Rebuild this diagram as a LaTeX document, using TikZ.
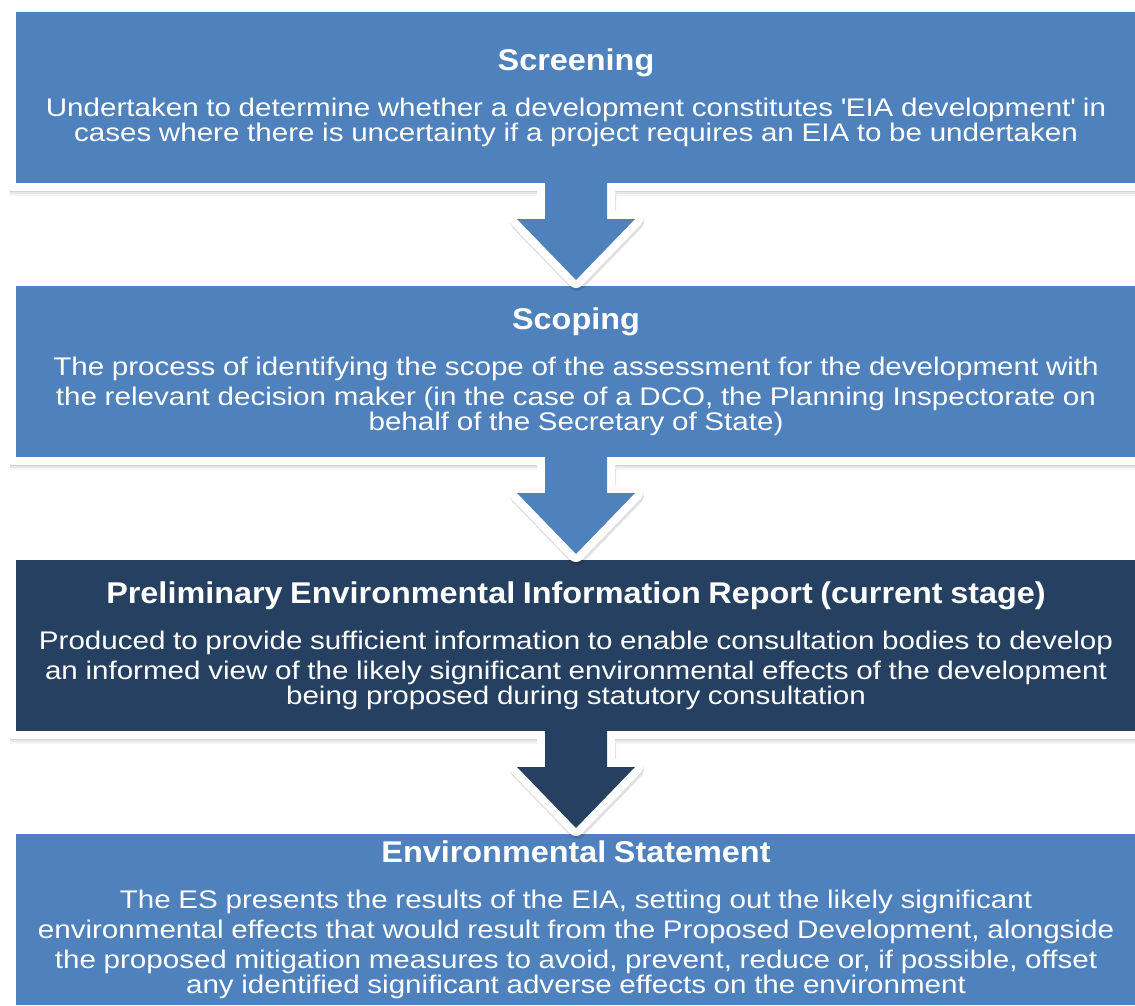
\documentclass[tikz,border=0pt]{standalone}
\usepackage{fontspec}
\setmainfont{Liberation Sans}
\newfontfamily\titlefam[FakeStretch=1.08]{Liberation Sans}
\newfontfamily\bodyfam[FakeStretch=1.16]{Liberation Sans}
\usetikzlibrary{positioning}
\usetikzlibrary{calc}
\usetikzlibrary{shadows}
\definecolor{stage_blue}{HTML}{4F81BD}
\definecolor{stage_dark}{HTML}{254061}

\newcommand{\stagetitle}[1]{{\titlefam\fontsize{30}{32}\selectfont\bfseries\spaceskip=.25em #1}\\[16pt]}
\newcommand{\stagebody}{\bodyfam\fontsize{25.5}{30}\selectfont\spaceskip=.30em\relax}

\begin{document}
\begin{tikzpicture}[
	    auto,
	    stagebox/.style={rectangle, draw=white, line width=8pt, line join=round, minimum width=1128pt, minimum height=179pt,
	        text width=1110pt, align=center, text=white, inner sep=0pt, outer sep=0pt,
	        drop shadow={shadow xshift=0pt, shadow yshift=-9pt, shadow scale=1.004, opacity=.08},
	        drop shadow={shadow xshift=0pt, shadow yshift=-7pt, shadow scale=1.004, opacity=.12},
	        drop shadow={shadow xshift=0pt, shadow yshift=-5pt, shadow scale=1.004, opacity=.2}},
	    bluebox/.style={stagebox, fill=stage_blue},
	    darkbox/.style={stagebox, fill=stage_dark},
	    arrowedge/.style={line width=16pt, line join=round, line cap=butt},
	]
		\useasboundingbox (0pt,0pt) rectangle (1135pt,-1006pt);

		\node[bluebox] (screening) at (576pt,-97.5pt) {\stagetitle{Screening}\stagebody
		    Undertaken to determine whether a development constitutes \textquotesingle EIA development\textquotesingle\ in\\
		    cases where there is uncertainty if a project requires an EIA to be undertaken};
		\node[bluebox, below=95pt of screening] (scoping) {\stagetitle{Scoping}\stagebody
		    The process of identifying the scope of the assessment for the development with\\
		    the relevant decision maker (in the case of a DCO, the Planning Inspectorate on\\
		    behalf of the Secretary of State)};
		\node[darkbox, below=95pt of scoping] (peir) {\stagetitle{Preliminary Environmental Information Report (current stage)}\stagebody
		    Produced to provide sufficient information to enable consultation bodies to develop\\
		    an informed view of the likely significant environmental effects of the development\\
		    being proposed during statutory consultation};
		\node[bluebox, below=95pt of peir] (es) {\stagetitle{Environmental Statement}\stagebody
		    The ES presents the results of the EIA, setting out the likely significant\\
		    environmental effects that would result from the Proposed Development, alongside\\
		    the proposed mitigation measures to avoid, prevent, reduce or, if possible, offset\\
		    any identified significant adverse effects on the environment};

		\foreach \a/\b/\c in {screening/scoping/stage_blue, scoping/peir/stage_blue, peir/es/stage_dark} {
		    \coordinate (s) at ($(\a.south)+(0,4pt)$);
		    \coordinate (t) at ($(\b.north)+(0,2pt)$);
		    \draw[arrowedge, black, opacity=.12] ($(s)+(-30pt,-12pt)$) -- ($(s)+(-30pt,-39pt)$) -- ($(s)+(-58pt,-39pt)$)
		        -- ($(t)+(1pt,-3pt)$) -- ($(s)+(60pt,-39pt)$) -- ($(s)+(32pt,-39pt)$) -- ($(s)+(32pt,-12pt)$);
		    \draw[arrowedge, white] ($(s)+(-31pt,0)$) -- ($(s)+(-31pt,-36pt)$) -- ($(s)+(-59pt,-36pt)$)
		        -- (t) -- ($(s)+(59pt,-36pt)$) -- ($(s)+(31pt,-36pt)$) -- ($(s)+(31pt,0)$);
		    \fill[\c] ($(s)+(-31pt,0)$) -- ($(s)+(-31pt,-36pt)$) -- ($(s)+(-59pt,-36pt)$)
		        -- (t) -- ($(s)+(59pt,-36pt)$) -- ($(s)+(31pt,-36pt)$) -- ($(s)+(31pt,0)$) -- cycle;
		}
	\end{tikzpicture}
\end{document}
